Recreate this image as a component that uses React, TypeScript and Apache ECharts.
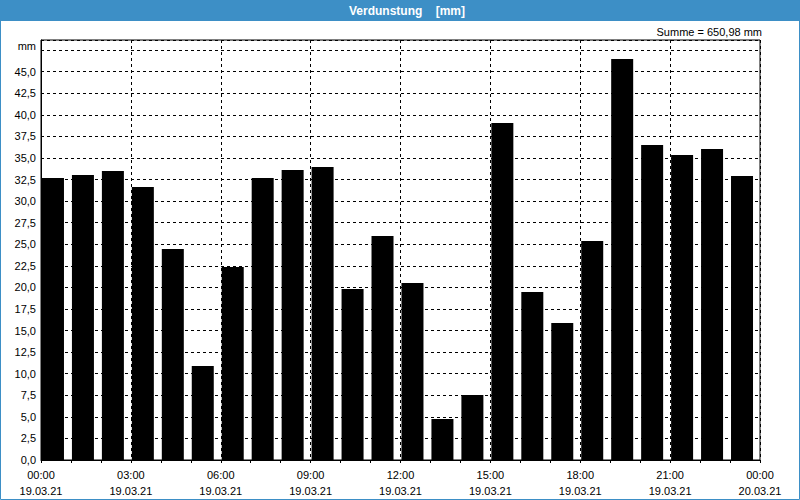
import React, { useEffect, useRef } from "react";
import * as echarts from "echarts";

const hours = [
  "00:00", "01:00", "02:00", "03:00", "04:00", "05:00", "06:00", "07:00",
  "08:00", "09:00", "10:00", "11:00", "12:00", "13:00", "14:00", "15:00",
  "16:00", "17:00", "18:00", "19:00", "20:00", "21:00", "22:00", "23:00",
];
const values = [
  32.68, 33.02, 33.49, 31.63, 24.45, 10.89, 22.36, 32.68,
  33.6, 33.95, 19.81, 25.96, 20.51, 4.75, 7.53, 39.05,
  19.47, 15.87, 25.38, 46.47, 36.5, 35.34, 36.04, 32.91,
];
const tickTimes = ["00:00", "03:00", "06:00", "09:00", "12:00", "15:00", "18:00", "21:00", "00:00"];
const tickDates = ["19.03.21", "19.03.21", "19.03.21", "19.03.21", "19.03.21", "19.03.21", "19.03.21", "19.03.21", "20.03.21"];

const titleText = "Verdunstung    [mm]";
const sumText = "Summe = 650,98 mm";
const unitText = "mm";

const FONT = "'Liberation Sans', Arial, sans-serif";
const BLUE = "#3d8fc6";

export default function App() {
  const ref = useRef<HTMLDivElement>(null);
  useEffect(() => {
    if (!ref.current) return;
    const chart = echarts.init(ref.current, undefined, { renderer: "svg" });
    const dashed = { color: "#000", width: 1, type: [3, 3] as any };
    chart.setOption({
      animation: false,
      backgroundColor: "#ffffff",
      textStyle: { fontFamily: FONT },
      grid: {
        left: 41,
        right: 40,
        top: 40,
        bottom: 40,
        show: true,
        borderColor: "#000",
        borderWidth: 1,
        backgroundColor: "#ffffff",
        containLabel: false,
      },
      xAxis: [
        {
          type: "category",
          data: hours,
          boundaryGap: true,
          axisLine: { show: true, lineStyle: { color: "#000", width: 1 } },
          axisTick: { show: true, length: 3, interval: 0, alignWithLabel: false, lineStyle: { color: "#000" } },
          axisLabel: { show: false },
          splitLine: { show: false },
        },
        {
          type: "value",
          position: "bottom",
          min: 0,
          max: 24,
          interval: 3,
          axisLine: { show: false },
          axisTick: { show: false },
          splitLine: { show: true, lineStyle: dashed },
          axisLabel: {
            show: true,
            margin: 7,
            fontSize: 11,
            lineHeight: 16,
            color: "#000",
            fontFamily: FONT,
            formatter: (v: number) => {
              const i = Math.round(v / 3);
              return tickTimes[i] + "\n" + tickDates[i];
            },
          },
        },
      ],
      yAxis: {
        type: "value",
        min: 0,
        max: 48.67,
        interval: 2.5,
        axisLine: { show: true, lineStyle: { color: "#000" } },
        axisTick: { show: false },
        splitLine: { show: true, lineStyle: dashed },
        axisLabel: {
          margin: 5,
          fontSize: 11,
          color: "#000",
          fontFamily: FONT,
          formatter: (v: number) => (v > 45.01 ? "" : v.toFixed(1).replace(".", ",")),
        },
      },
      series: [
        {
          type: "bar",
          xAxisIndex: 0,
          yAxisIndex: 0,
          data: values,
          barWidth: 22,
          barGap: "-72.7%",
          itemStyle: { color: "#000" },
          silent: true,
        },
        {
          type: "bar",
          xAxisIndex: 0,
          yAxisIndex: 0,
          data: values.map(() => null),
          barWidth: 22,
          barGap: "-72.7%",
          itemStyle: { color: "#000" },
          silent: true,
        },
      ],
      graphic: [
        { type: "rect", shape: { x: 0, y: 0, width: 800, height: 21 }, style: { fill: BLUE }, silent: true },
        {
          type: "rect",
          shape: { x: 0.5, y: 0.5, width: 799, height: 499 },
          style: { fill: "none", stroke: BLUE, lineWidth: 1 },
          silent: true,
        },
        {
          type: "text",
          x: 407,
          y: 10.5,
          style: {
            text: titleText,
            fill: "#fff",
            font: `bold 12px ${FONT}`,
            textAlign: "center",
            textVerticalAlign: "middle",
          },
          silent: true,
        },
        {
          type: "text",
          x: 762,
          y: 32,
          style: {
            text: sumText,
            fill: "#000",
            font: `11px ${FONT}`,
            textAlign: "right",
            textVerticalAlign: "middle",
          },
          silent: true,
        },
        {
          type: "text",
          x: 36,
          y: 46,
          style: {
            text: unitText,
            fill: "#000",
            font: `11px ${FONT}`,
            textAlign: "right",
            textVerticalAlign: "middle",
          },
          silent: true,
        },
      ],
    });
    return () => chart.dispose();
  }, []);
  return (
    <div
      ref={ref}
      style={{ position: "fixed", left: 0, top: 0, width: 800, height: 500 }}
    />
  );
}
